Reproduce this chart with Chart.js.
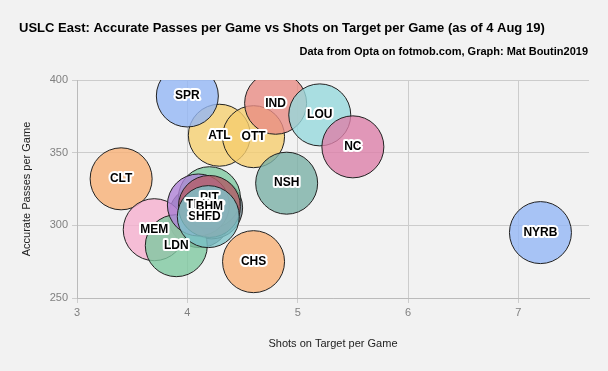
<!DOCTYPE html>
<html>
<head>
<meta charset="utf-8">
<script src="https://cdn.jsdelivr.net/npm/chart.js@4/dist/chart.umd.min.js"></script>
<style>
  html, body { margin: 0; padding: 0; background: #f2f2f2; }
  #wrap { width: 608px; height: 371px; position: relative; }
</style>
</head>
<body>
<div id="wrap"><canvas id="c" width="608" height="371"></canvas></div>
<script>
// ---- data ----
const teams = ["STL","BST","ATL","OTT","SPR","IND","LOU","NC","CLT","NSH","MEM","LDN","CHS","NYRB","PIT","TBR","BHM","HFD"];
const shotsOnTarget = [4.11,4.22,4.29,4.6,4.0,4.8,5.2,5.5,3.4,4.9,3.7,3.9,4.6,7.2,4.2,4.1,4.2,4.19];
const accuratePasses = [306,312,362,361,389,384,376,354,332,329,297,286,275,295,319,314,313,306];
const bubbleSizes = [31,31,31,31,31,31,31,31,31,31,31,31,31,31,31,31,31,31];
const teamColors = [
  "rgba(100,112,132,0.8)", // STL
  "rgba(112,132,140,0.8)", // BST
  "rgba(245,207,112,0.8)", // ATL
  "rgba(245,205,110,0.8)", // OTT
  "rgba(147,182,245,0.8)", // SPR
  "rgba(232,140,133,0.8)", // IND
  "rgba(150,216,220,0.8)", // LOU
  "rgba(220,128,169,0.8)", // NC
  "rgba(248,176,118,0.8)", // CLT
  "rgba(123,176,166,0.8)", // NSH
  "rgba(245,175,206,0.8)", // MEM
  "rgba(126,200,160,0.8)", // LDN
  "rgba(248,176,118,0.8)", // CHS
  "rgba(147,182,245,0.8)", // NYRB
  "rgba(126,200,160,0.8)", // PIT
  "rgba(175,130,215,0.8)", // TBR
  "rgba(180,95,105,0.8)",  // BHM
  "rgba(125,195,200,0.8)"  // HFD
];
const xTicks = [3,4,5,6,7];
const yTicks = [250,300,350,400];
const titleText = "USLC East: Accurate Passes per Game vs Shots on Target per Game (as of 4 Aug 19)";
const subtitleText = "Data from Opta on fotmob.com, Graph: Mat Boutin2019";
const xTitle = "Shots on Target per Game";
const yTitle = "Accurate Passes per Game";

const points = teams.map((t, i) => ({ x: shotsOnTarget[i], y: accuratePasses[i], r: bubbleSizes[i] }));

const bgPlugin = {
  id: 'bg',
  beforeDraw(chart) {
    const ctx = chart.ctx;
    ctx.save();
    ctx.fillStyle = '#f2f2f2';
    ctx.fillRect(0, 0, chart.width, chart.height);
    ctx.restore();
  }
};

const textPlugin = {
  id: 'texts',
  afterDraw(chart) {
    const ctx = chart.ctx;
    ctx.save();
    // team labels
    const meta = chart.getDatasetMeta(0);
    ctx.font = 'bold 12px "Liberation Sans", Arial, sans-serif';
    ctx.textAlign = 'center';
    ctx.textBaseline = 'middle';
    ctx.lineJoin = 'round';
    meta.data.forEach((el, i) => {
      ctx.lineWidth = 4;
      ctx.strokeStyle = '#ffffff';
      ctx.strokeText(teams[i], el.x, el.y);
      ctx.fillStyle = '#000000';
      ctx.fillText(teams[i], el.x, el.y);
    });
    // titles
    ctx.textBaseline = 'middle';
    ctx.fillStyle = '#000000';
    ctx.textAlign = 'left';
    ctx.font = 'bold 13px "Liberation Sans", Arial, sans-serif';
    ctx.fillText(titleText, 19, 28);
    ctx.textAlign = 'right';
    ctx.font = 'bold 11px "Liberation Sans", Arial, sans-serif';
    ctx.fillText(subtitleText, 588, 52);
    ctx.restore();
  }
};

const tickFont = { family: '"Liberation Sans", Arial, sans-serif', size: 11 };
const axisTitleFont = { family: '"Liberation Sans", Arial, sans-serif', size: 11 };

new Chart(document.getElementById('c'), {
  type: 'bubble',
  data: {
    datasets: [{
      data: points,
      backgroundColor: teamColors,
      borderColor: '#222222',
      borderWidth: 1,
      hoverBorderWidth: 1
    }]
  },
  options: {
    responsive: false,
    animation: false,
    events: [],
    layout: { autoPadding: false, padding: { left: 0, right: 19, top: 80, bottom: 0 } },
    plugins: { legend: { display: false }, tooltip: { enabled: false } },
    scales: {
      x: {
        type: 'linear',
        min: 3,
        max: 7.64,
        afterFit(scale) { scale.height = 73; },
        ticks: {
          stepSize: 1,
          includeBounds: false,
          color: '#808080',
          font: tickFont,
          padding: 3,
          maxRotation: 0
        },
        afterBuildTicks(scale) { scale.ticks = xTicks.map(v => ({ value: v })); },
        grid: { color: '#cccccc', tickLength: 5, lineWidth: 1 },
        border: { color: '#bbbbbb' },
        title: {
          display: true,
          text: xTitle,
          color: '#222222',
          font: axisTitleFont,
          padding: { top: 0, bottom: 20 }
        }
      },
      y: {
        type: 'linear',
        min: 250,
        max: 400,
        afterFit(scale) { scale.width = 77; },
        ticks: {
          stepSize: 50,
          color: '#808080',
          font: tickFont,
          padding: 4
        },
        afterBuildTicks(scale) { scale.ticks = yTicks.map(v => ({ value: v })); },
        grid: { color: '#cccccc', tickLength: 5, lineWidth: 1 },
        border: { color: '#bbbbbb' },
        title: {
          display: true,
          text: yTitle,
          color: '#222222',
          font: axisTitleFont,
          padding: { top: 20, bottom: 0 }
        }
      }
    }
  },
  plugins: [bgPlugin, textPlugin]
});
</script>
</body>
</html>
